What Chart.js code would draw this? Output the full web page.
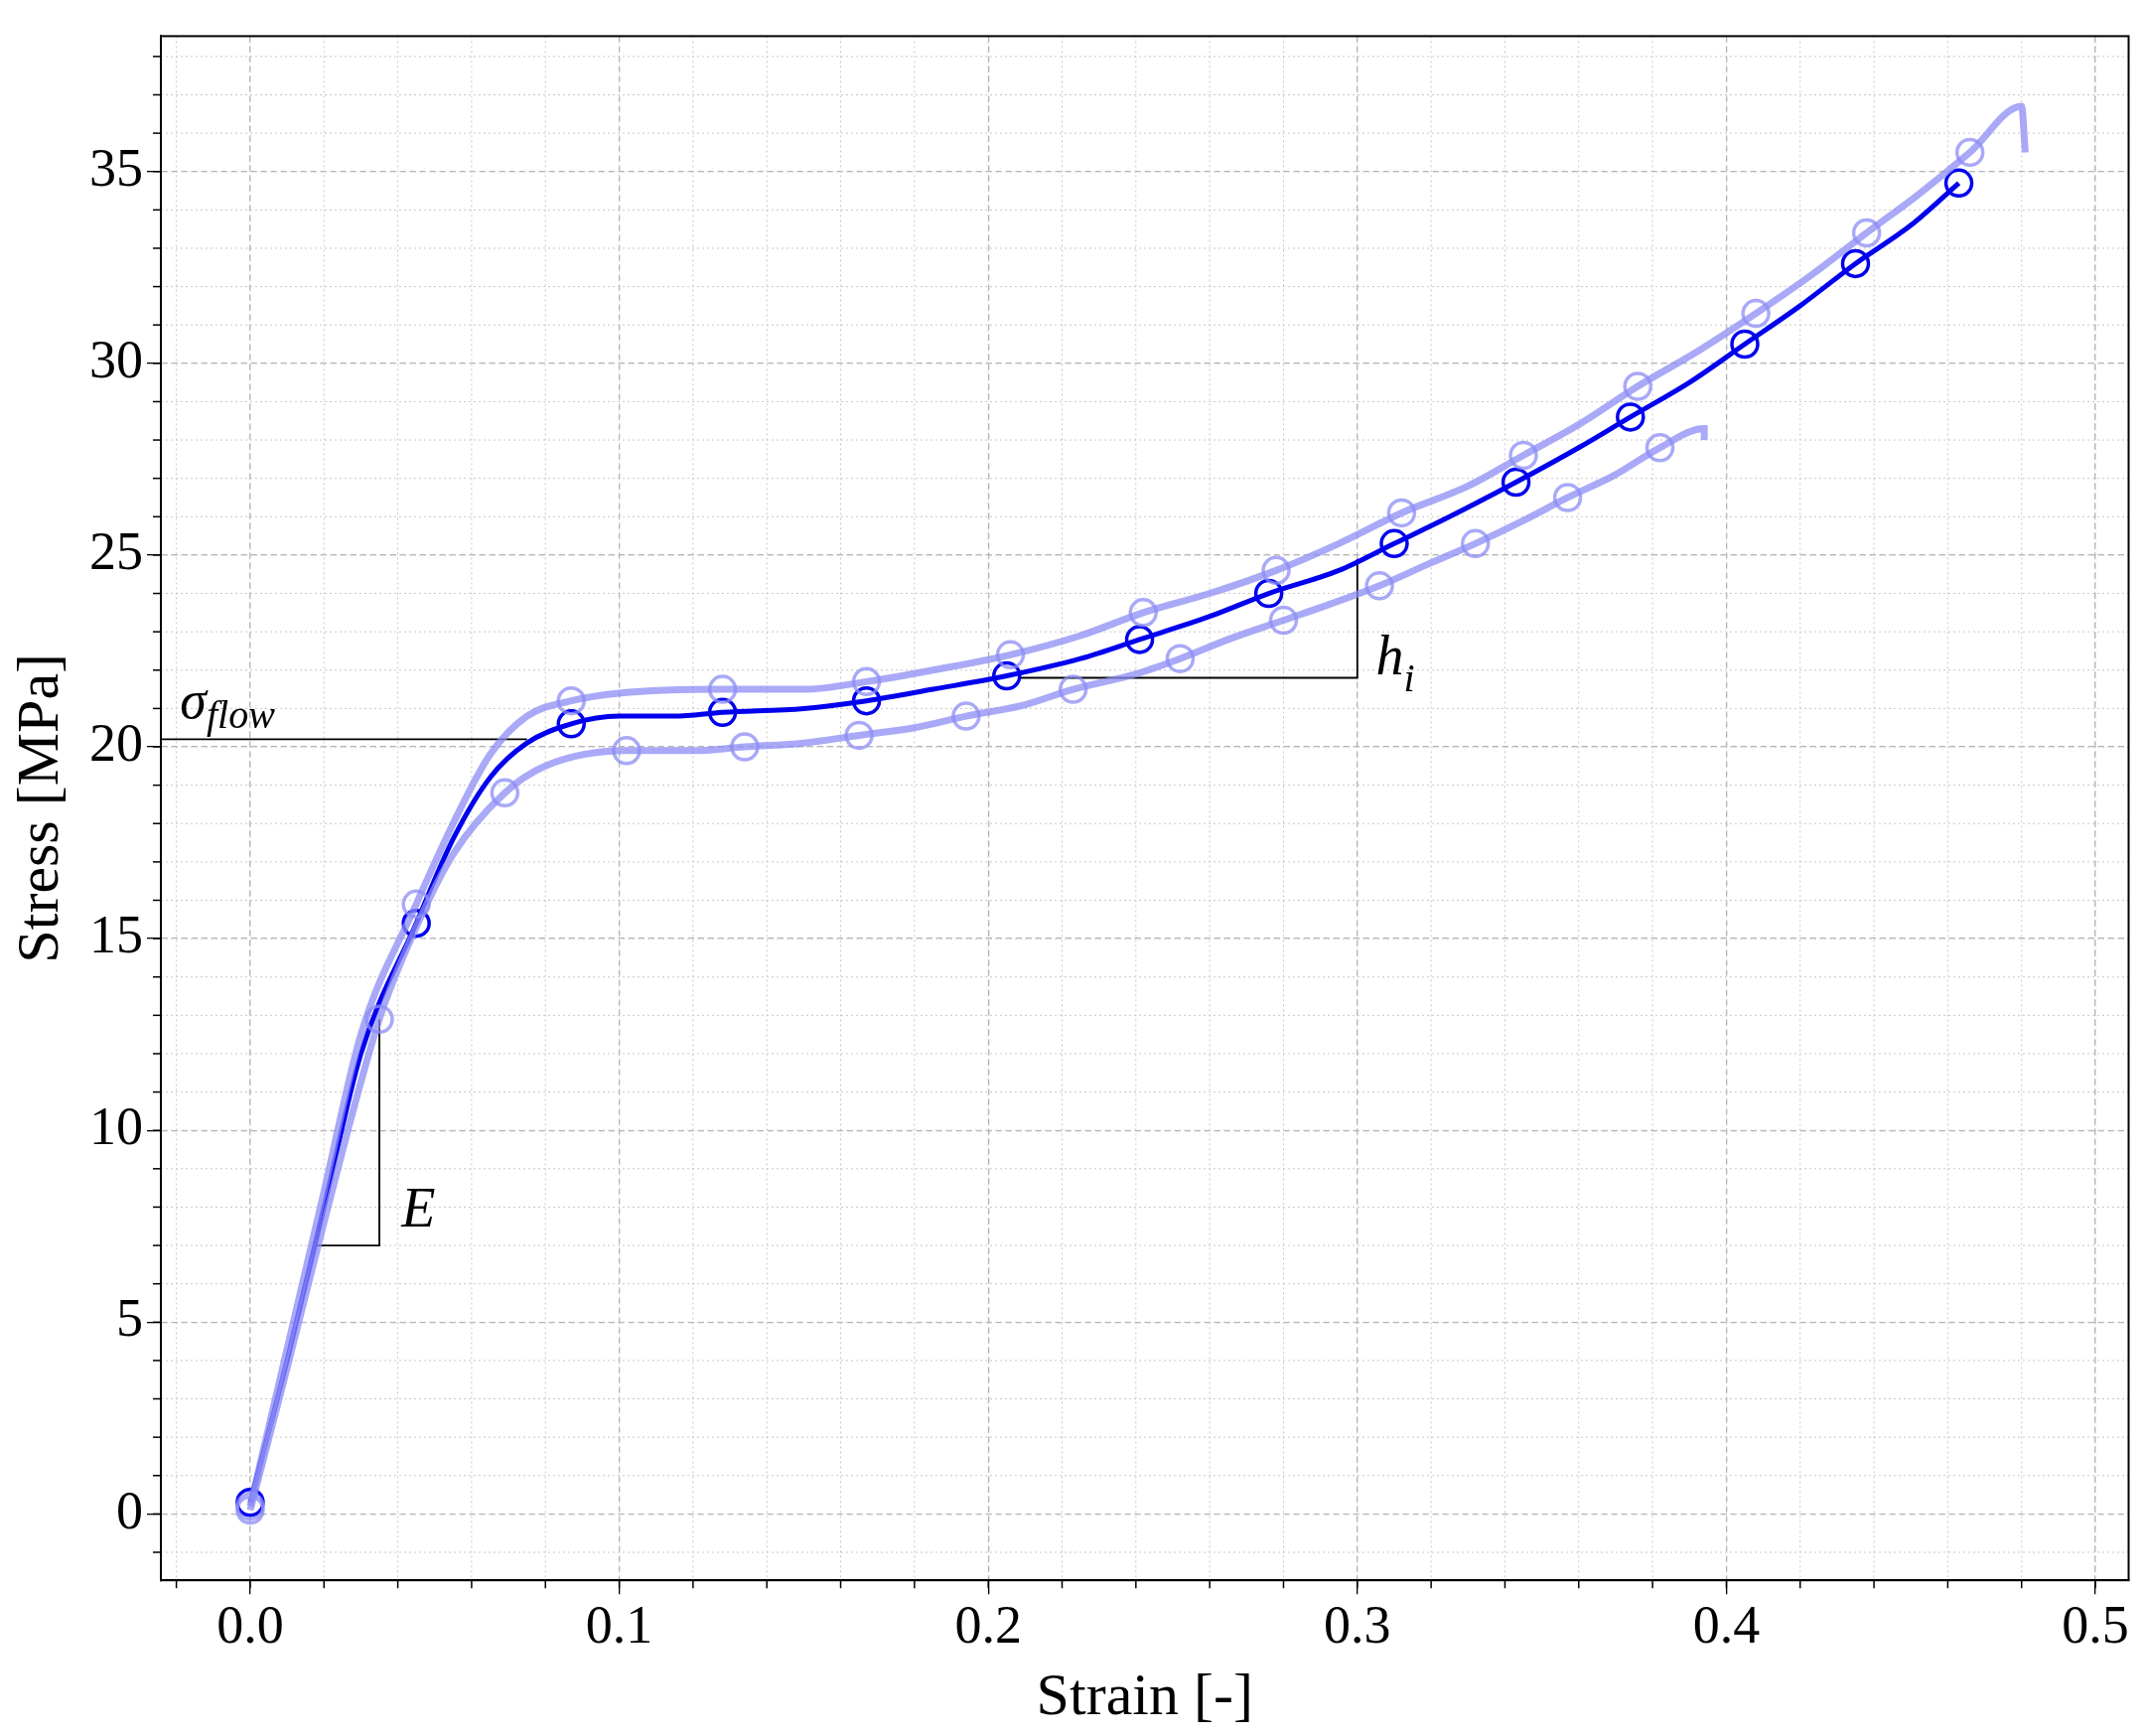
<!DOCTYPE html>
<html><head><meta charset="utf-8">
<script src="https://cdn.jsdelivr.net/npm/chart.js@4"></script>
<style>html,body{margin:0;background:#fff}#wrap{width:2160px;height:1748px}</style>
</head><body><div id="wrap"><canvas id="c"></canvas></div>
<script>
// mean curve (line) and its marker points
const meanLine = [[0,0.3],[0.01,4],[0.02,8],[0.03,12],[0.045,15.4],[0.055,17.6],[0.065,19.2],[0.075,20.1],[0.087,20.6],[0.1,20.8],[0.115,20.8],[0.128,20.9],[0.15,21.0],[0.167,21.2],[0.185,21.5],[0.205,21.85],[0.225,22.3],[0.241,22.8],[0.26,23.4],[0.276,24.0],[0.295,24.6],[0.31,25.3],[0.325,26.0],[0.343,26.9],[0.36,27.8],[0.374,28.6],[0.39,29.5],[0.405,30.5],[0.42,31.5],[0.435,32.6],[0.45,33.6],[0.463,34.7]];
const meanMarks = [[0,0.3],[0.045,15.4],[0.087,20.6],[0.128,20.9],[0.167,21.2],[0.205,21.85],[0.241,22.8],[0.276,24.0],[0.31,25.3],[0.343,26.9],[0.374,28.6],[0.405,30.5],[0.435,32.6],[0.463,34.7]];
const upperLine = [[0,0.2],[0.01,4.3],[0.02,8.4],[0.03,12.5],[0.045,15.9],[0.055,18.0],[0.065,19.8],[0.075,20.8],[0.087,21.2],[0.1,21.4],[0.128,21.5],[0.15,21.5],[0.167,21.7],[0.185,22.0],[0.206,22.4],[0.225,22.9],[0.242,23.5],[0.26,24.0],[0.278,24.6],[0.295,25.3],[0.312,26.1],[0.33,26.8],[0.345,27.6],[0.36,28.4],[0.376,29.4],[0.392,30.3],[0.408,31.3],[0.423,32.3],[0.438,33.4],[0.452,34.4],[0.466,35.5],[0.48,36.7],[0.481,35.5]];
const upperMarks = [[0,0.2],[0.045,15.9],[0.087,21.2],[0.128,21.5],[0.167,21.7],[0.206,22.4],[0.242,23.5],[0.278,24.6],[0.312,26.1],[0.345,27.6],[0.376,29.4],[0.408,31.3],[0.438,33.4],[0.466,35.5]];
const lowerLine = [[0,0.1],[0.01,3.8],[0.02,7.6],[0.035,12.9],[0.045,15.3],[0.055,17.2],[0.069,18.8],[0.08,19.5],[0.102,19.9],[0.12,19.9],[0.134,20.0],[0.15,20.1],[0.165,20.3],[0.18,20.5],[0.194,20.8],[0.21,21.1],[0.223,21.5],[0.24,21.9],[0.252,22.3],[0.265,22.8],[0.28,23.3],[0.292,23.7],[0.306,24.2],[0.32,24.8],[0.332,25.3],[0.345,25.9],[0.357,26.5],[0.37,27.1],[0.382,27.8],[0.394,28.3],[0.394,28.0]];
const lowerMarks = [[0,0.1],[0.035,12.9],[0.069,18.8],[0.102,19.9],[0.134,20.0],[0.165,20.3],[0.194,20.8],[0.223,21.5],[0.252,22.3],[0.28,23.3],[0.306,24.2],[0.332,25.3],[0.357,26.5],[0.382,27.8]];
const flowLine = [[-0.0242,20.2],[0.075,20.2]];
const eTriangle = [[0.017,7],[0.035,7],[0.035,12.9]];
const hTriangle = [[0.205,21.8],[0.3,21.8],[0.3,24.9]];
const xTicks = [0,0.1,0.2,0.3,0.4,0.5];
const yTicks = [0,5,10,15,20,25,30,35];

const pts = a => a.map(p => ({x:p[0], y:p[1]}));
const light = 'rgba(140,140,245,0.75)';
const FONT = '"Liberation Serif", "DejaVu Serif", serif';

const lineDs = (d, c, w, t) => ({type:'line', data:pts(d), borderColor:c, borderWidth:w, pointRadius:0, fill:false, tension:t || 0, cubicInterpolationMode:'monotone'});
const markDs = (d, stroke, fillC, w) => ({type:'scatter', data:pts(d), pointRadius:13, pointBorderWidth:w, pointBorderColor:stroke, pointBackgroundColor:fillC, showLine:false});

const extras = {
  id:'extras',
  beforeDatasetsDraw(ch){
    const {ctx, chartArea:a, scales:{x, y}} = ch;
    ctx.save();
    ctx.strokeStyle = '#c8c8c8'; ctx.lineWidth = 1; ctx.setLineDash([2,3]);
    for (let v = -0.02; v <= 0.51; v += 0.02) {
      const px = x.getPixelForValue(v); ctx.beginPath(); ctx.moveTo(px,a.top); ctx.lineTo(px,a.bottom); ctx.stroke();
    }
    for (let v = -1; v <= 38; v += 1) {
      const py = y.getPixelForValue(v); ctx.beginPath(); ctx.moveTo(a.left,py); ctx.lineTo(a.right,py); ctx.stroke();
    }
    ctx.setLineDash([]); ctx.strokeStyle = '#000'; ctx.lineWidth = 1.5;
    for (let v = -0.02; v <= 0.51; v += 0.02) {
      const px = x.getPixelForValue(v); ctx.beginPath(); ctx.moveTo(px,a.bottom); ctx.lineTo(px,a.bottom+8); ctx.stroke();
    }
    for (let v = -1; v <= 38; v += 1) {
      const py = y.getPixelForValue(v); ctx.beginPath(); ctx.moveTo(a.left,py); ctx.lineTo(a.left-8,py); ctx.stroke();
    }
    ctx.restore();
  },
  afterDatasetsDraw(ch){
    const {ctx, scales:{x, y}} = ch;
    ctx.save();
    ctx.fillStyle = '#000';
    ctx.font = 'italic 56px ' + FONT;
    ctx.textBaseline = 'alphabetic';
    ctx.fillText('E', x.getPixelForValue(0.041), y.getPixelForValue(7.5));
    ctx.fillText('h', x.getPixelForValue(0.305), y.getPixelForValue(21.9));
    const hw = ctx.measureText('h').width;
    ctx.font = 'italic 40px ' + FONT;
    ctx.fillText('i', x.getPixelForValue(0.305)+hw, y.getPixelForValue(21.45));
    ctx.font = 'italic 54px ' + FONT;
    ctx.fillText('σ', x.getPixelForValue(-0.019), y.getPixelForValue(20.75));
    const sw = ctx.measureText('σ').width;
    ctx.font = 'italic 40px ' + FONT;
    ctx.fillText('flow', x.getPixelForValue(-0.019)+sw, y.getPixelForValue(20.5));
    ctx.restore();
  }
};

new Chart('c', {
  data: {datasets: [
    lineDs(upperLine, light, 7),
    lineDs(lowerLine, light, 7),
    markDs(upperMarks, light, 'rgba(255,255,255,0)', 3.5),
    markDs(lowerMarks, light, 'rgba(255,255,255,0)', 3.5),
    lineDs(meanLine, '#0000ee', 5),
    markDs(meanMarks, '#0000ee', '#fff', 3.5),
    lineDs(flowLine, '#000', 1.8),
    lineDs(eTriangle, '#000', 1.8),
    lineDs(hTriangle, '#000', 1.8)
  ]},
  options: {
    animation:false, responsive:true, maintainAspectRatio:false, devicePixelRatio:1,
    layout:{padding:{top:-14, right:16, left:6, bottom:2}},
    plugins:{legend:{display:false}, tooltip:{enabled:false}},
    scales:{
      x:{type:'linear', min:-0.0242, max:0.509,
        afterBuildTicks: s => { s.ticks = xTicks.map(v => ({value:v})); },
        ticks:{font:{family:FONT, size:54}, color:'#000', callback:v => v.toFixed(1), maxRotation:0, padding:2},
        grid:{color:'#b0b0b0', lineWidth:1.3, tickLength:14, tickColor:'#000'},
        border:{color:'#000', width:2, dash:[6,4]},
        title:{display:true, text:'Strain [-]', font:{family:FONT, size:60}, color:'#000', padding:{top:0, bottom:0}}},
      y:{type:'linear', min:-1.73, max:38.53,
        afterBuildTicks: s => { s.ticks = yTicks.map(v => ({value:v})); },
        ticks:{font:{family:FONT, size:54}, color:'#000', padding:4},
        grid:{color:'#b0b0b0', lineWidth:1.3, tickLength:14, tickColor:'#000'},
        border:{color:'#000', width:2, dash:[6,4]},
        title:{display:true, text:'Stress [MPa]', font:{family:FONT, size:60}, color:'#000', padding:{top:0, bottom:8}}}
    }
  },
  plugins:[extras, {id:'frame', afterDraw(ch){const {ctx, chartArea:a}=ch; ctx.save(); ctx.strokeStyle='#000'; ctx.lineWidth=2; ctx.strokeRect(a.left,a.top,a.right-a.left,a.bottom-a.top); ctx.restore();}}]
});
</script></body></html>
